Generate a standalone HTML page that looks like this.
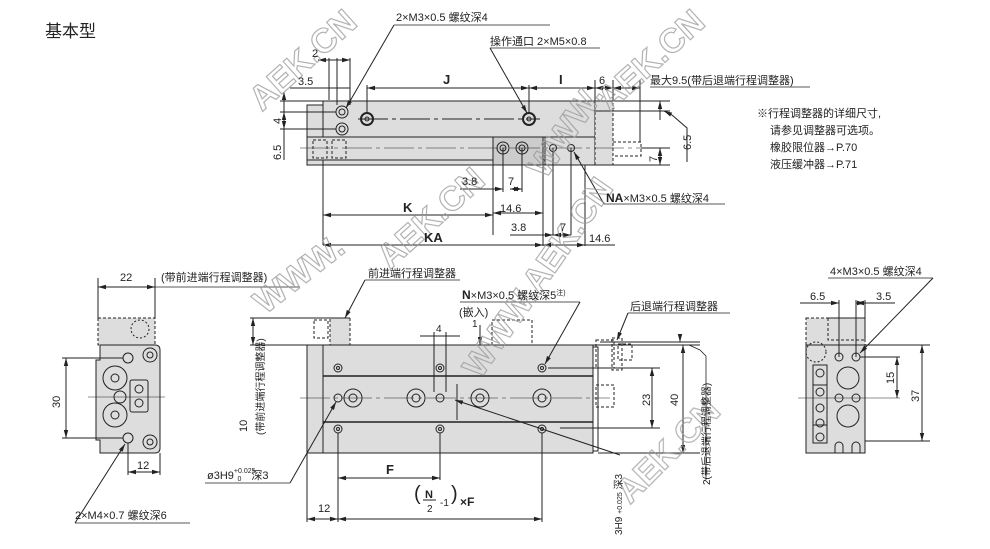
<!DOCTYPE html>
<html><head><meta charset="utf-8"><style>
html,body{margin:0;padding:0;background:#fff;width:990px;height:549px;overflow:hidden}
svg{display:block}
text{font-family:"Liberation Sans","Noto Sans CJK SC",sans-serif;fill:#222;font-size:11px}
.b{font-weight:bold;font-size:13px}
.wm{font-family:"Liberation Sans",sans-serif;font-weight:bold;font-size:34px;fill:none;stroke:#999;stroke-width:1.2}
</style></head><body>
<svg width="990" height="549" viewBox="0 0 990 549" xmlns="http://www.w3.org/2000/svg">
<defs>
<marker id="a" markerWidth="8" markerHeight="6" refX="8" refY="3" orient="auto-start-reverse"><path d="M0,0.8 L8,3 L0,5.2z" fill="#222"/></marker>
</defs>
<g stroke="#222" stroke-width="1" fill="none">
<!-- ===== TOP VIEW ===== -->
<rect x="307" y="105" width="16" height="60" fill="#ddd"/>
<rect x="323" y="101" width="272" height="36" fill="#ddd"/>
<rect x="307" y="137" width="288" height="23" fill="#ddd"/>
<rect x="323" y="160" width="272" height="5" fill="#ddd"/>
<rect x="493" y="137" width="50" height="28" fill="#ccc"/>
<rect x="545" y="137" width="50" height="28" fill="#ddd"/>
<rect x="595" y="101" width="18" height="64" fill="#ddd" stroke-dasharray="3,2"/>
<rect x="613" y="142" width="28" height="14" stroke-dasharray="3,2"/>
<rect x="313" y="140" width="14" height="18" stroke-dasharray="3,2"/>
<rect x="332" y="140" width="14" height="18" stroke-dasharray="3,2"/>
<circle cx="342" cy="112" r="6"/><circle cx="342" cy="112" r="3"/>
<circle cx="342" cy="129" r="6"/><circle cx="342" cy="129" r="3"/>
<circle cx="367" cy="119" r="6" stroke-width="2"/><circle cx="367" cy="119" r="2"/>
<circle cx="529" cy="119" r="6" stroke-width="2"/><circle cx="529" cy="119" r="2"/>
<circle cx="503" cy="148" r="6"/><circle cx="503" cy="148" r="3"/>
<circle cx="522" cy="148" r="6"/><circle cx="522" cy="148" r="3"/>
<circle cx="553" cy="148" r="3.5"/><circle cx="571" cy="148" r="3.5"/>
<line x1="358" y1="119" x2="540" y2="119" stroke-dasharray="30,4,4,4"/>
<line x1="300" y1="148" x2="660" y2="148" stroke-dasharray="30,4,4,4" stroke-width="0.6"/>
<!-- dims top -->
<line x1="323" y1="165" x2="323" y2="245"/>
<line x1="337" y1="58" x2="337" y2="105"/><line x1="350" y1="58" x2="350" y2="105"/>
<line x1="329" y1="58" x2="329" y2="100"/>
<line x1="318" y1="60" x2="350" y2="60" marker-start="url(#a)" marker-end="url(#a)"/>
<line x1="290" y1="88" x2="350" y2="88"/>
<line x1="367" y1="88" x2="529" y2="88" marker-start="url(#a)" marker-end="url(#a)"/>
<line x1="529" y1="88" x2="595" y2="88" marker-start="url(#a)" marker-end="url(#a)"/>
<line x1="595" y1="88" x2="613" y2="88" marker-start="url(#a)" marker-end="url(#a)"/>
<line x1="613" y1="88" x2="640" y2="88" marker-start="url(#a)" marker-end="url(#a)"/>
<line x1="367" y1="85" x2="367" y2="113"/><line x1="529" y1="85" x2="529" y2="113"/>
<line x1="595" y1="80" x2="595" y2="101"/><line x1="613" y1="80" x2="613" y2="101"/><line x1="640" y1="80" x2="640" y2="142"/>
<line x1="280" y1="101" x2="323" y2="101"/><line x1="280" y1="112" x2="336" y2="112"/><line x1="280" y1="129" x2="336" y2="129"/>
<line x1="284" y1="92" x2="284" y2="160" marker-start="url(#a)"/>
<line x1="284" y1="112" x2="284" y2="129" marker-start="url(#a)" marker-end="url(#a)"/>
<line x1="595" y1="101" x2="670" y2="101"/><line x1="595" y1="111" x2="670" y2="111"/>
<line x1="660" y1="101" x2="660" y2="120" marker-start="url(#a)"/>
<line x1="641" y1="148" x2="670" y2="148"/><line x1="595" y1="165" x2="670" y2="165"/>
<line x1="660" y1="148" x2="660" y2="165" marker-start="url(#a)" marker-end="url(#a)"/>
<polyline points="687,162 687,128 672,115" /><line x1="672" y1="115" x2="664" y2="111" marker-end="url(#a)"/>
<line x1="493" y1="165" x2="493" y2="235"/><line x1="503" y1="148" x2="503" y2="192"/><line x1="522" y1="148" x2="522" y2="192"/>
<line x1="543" y1="165" x2="543" y2="246"/><line x1="553" y1="148" x2="553" y2="235"/><line x1="571" y1="148" x2="571" y2="235"/><line x1="585" y1="165" x2="585" y2="246"/>
<line x1="460" y1="189" x2="503" y2="189" marker-end="url(#a)"/><line x1="510" y1="189" x2="522" y2="189" marker-start="url(#a)" marker-end="url(#a)"/>
<line x1="493" y1="213" x2="543" y2="213" marker-start="url(#a)" marker-end="url(#a)"/>
<line x1="323" y1="215" x2="493" y2="215" marker-start="url(#a)" marker-end="url(#a)"/>
<line x1="510" y1="235" x2="553" y2="235" marker-end="url(#a)"/><line x1="553" y1="235" x2="571" y2="235" marker-start="url(#a)" marker-end="url(#a)"/>
<line x1="323" y1="245" x2="543" y2="245" marker-start="url(#a)" marker-end="url(#a)"/>
<line x1="543" y1="245" x2="585" y2="245" marker-start="url(#a)" marker-end="url(#a)"/><line x1="585" y1="245" x2="615" y2="245"/>
<!-- leaders top -->
<line x1="394" y1="25" x2="550" y2="25" stroke-width="0.8"/><line x1="394" y1="25" x2="346" y2="108" marker-end="url(#a)"/>
<line x1="490" y1="48" x2="600" y2="48" stroke-width="0.8"/><line x1="490" y1="48" x2="527" y2="113" marker-end="url(#a)"/>
<line x1="604" y1="204" x2="725" y2="204" stroke-width="0.8"/><line x1="604" y1="204" x2="574" y2="152" marker-end="url(#a)"/>
<line x1="650" y1="87" x2="810" y2="87" stroke-width="0.8"/>

<!-- ===== LEFT END VIEW ===== -->
<rect x="98" y="318" width="57" height="27" fill="#ddd" stroke-dasharray="3,2"/>
<circle cx="140" cy="329" r="9" stroke-dasharray="2,2"/>
<path d="M100,345 H155 Q160,345 160,350 V448 Q160,453 155,453 H100 V440 H96 V360 H100z" fill="#ddd"/>
<circle cx="128" cy="358" r="5"/><circle cx="150" cy="355" r="7"/><circle cx="150" cy="355" r="3"/>
<circle cx="115" cy="378" r="12"/><circle cx="115" cy="378" r="4"/>
<circle cx="115" cy="415" r="12"/><circle cx="115" cy="415" r="4"/>
<circle cx="120" cy="397" r="6"/>
<rect x="130" y="380" width="18" height="32" rx="2"/><circle cx="139" cy="389" r="4"/><circle cx="139" cy="403" r="4"/>
<circle cx="128" cy="438" r="5"/><circle cx="150" cy="442" r="7"/><circle cx="150" cy="442" r="3"/>
<line x1="88" y1="397" x2="165" y2="397" stroke-width="0.6"/>
<line x1="98" y1="278" x2="98" y2="318"/><line x1="155" y1="278" x2="155" y2="318"/>
<line x1="98" y1="287" x2="155" y2="287" marker-start="url(#a)" marker-end="url(#a)"/><line x1="155" y1="287" x2="300" y2="287" stroke-width="0.8"/>
<line x1="62" y1="358" x2="123" y2="358"/><line x1="62" y1="438" x2="123" y2="438"/>
<line x1="66" y1="358" x2="66" y2="438" marker-start="url(#a)" marker-end="url(#a)"/>
<line x1="128" y1="443" x2="128" y2="475"/><line x1="160" y1="453" x2="160" y2="475"/>
<line x1="128" y1="472" x2="160" y2="472" marker-start="url(#a)" marker-end="url(#a)"/>
<line x1="75" y1="523" x2="190" y2="523" stroke-width="0.8"/><line x1="75" y1="523" x2="125" y2="444" marker-end="url(#a)"/>

<!-- ===== BOTTOM VIEW ===== -->
<rect x="307" y="345" width="286" height="108" fill="#ddd"/>
<line x1="323" y1="345" x2="323" y2="453"/>
<line x1="323" y1="376" x2="593" y2="376" stroke-width="1.5"/><line x1="323" y1="422" x2="593" y2="422" stroke-width="1.5"/>
<rect x="593" y="347" width="5" height="104"/>
<rect x="314" y="320" width="14" height="18" stroke-dasharray="3,2"/><rect x="330" y="318" width="20" height="27" fill="#ddd" stroke-dasharray="3,2"/>
<rect x="492" y="320" width="40" height="25" stroke-dasharray="3,2"/>
<rect x="596" y="340" width="18" height="28" stroke-dasharray="3,2"/><rect x="612" y="338" width="10" height="32" stroke-dasharray="3,2"/><rect x="618" y="344" width="14" height="16" stroke-dasharray="3,2"/>
<rect x="596" y="385" width="18" height="22" stroke-dasharray="3,2"/>
<g>
<circle cx="338" cy="368" r="4"/><circle cx="338" cy="368" r="1.5"/>
<circle cx="440" cy="368" r="4"/><circle cx="440" cy="368" r="1.5"/>
<circle cx="542" cy="368" r="4"/><circle cx="542" cy="368" r="1.5"/>
<circle cx="338" cy="429" r="4"/><circle cx="338" cy="429" r="1.5"/>
<circle cx="440" cy="429" r="4"/><circle cx="440" cy="429" r="1.5"/>
<circle cx="542" cy="429" r="4"/><circle cx="542" cy="429" r="1.5"/>
<circle cx="338" cy="398" r="4"/><circle cx="440" cy="398" r="4"/>
<circle cx="353" cy="398" r="9"/><circle cx="353" cy="398" r="4"/>
<circle cx="416" cy="398" r="9"/><circle cx="416" cy="398" r="4"/>
<circle cx="480" cy="398" r="9"/><circle cx="480" cy="398" r="4"/>
<circle cx="542" cy="398" r="9"/><circle cx="542" cy="398" r="4"/>
</g>
<line x1="300" y1="398" x2="610" y2="398" stroke-width="0.6" stroke-dasharray="30,4,4,4"/>
<line x1="250" y1="318" x2="350" y2="318"/><line x1="250" y1="345" x2="700" y2="345"/>
<line x1="253" y1="318" x2="253" y2="345" marker-start="url(#a)" marker-end="url(#a)"/>
<line x1="560" y1="428" x2="660" y2="428"/><line x1="548" y1="368" x2="660" y2="368"/>
<line x1="652" y1="368" x2="652" y2="428" marker-start="url(#a)" marker-end="url(#a)"/>
<line x1="600" y1="342" x2="700" y2="342"/><line x1="598" y1="453" x2="700" y2="453"/>
<line x1="683" y1="345" x2="683" y2="453" marker-start="url(#a)" marker-end="url(#a)"/>
<line x1="680" y1="335" x2="680" y2="342" marker-end="url(#a)"/>
<line x1="307" y1="453" x2="307" y2="522"/><line x1="338" y1="433" x2="338" y2="522"/><line x1="440" y1="433" x2="440" y2="480"/><line x1="542" y1="433" x2="542" y2="522"/>
<line x1="338" y1="478" x2="440" y2="478" marker-start="url(#a)" marker-end="url(#a)"/>
<line x1="307" y1="519" x2="338" y2="519" marker-start="url(#a)" marker-end="url(#a)"/>
<line x1="338" y1="519" x2="542" y2="519" marker-start="url(#a)" marker-end="url(#a)"/>
<line x1="420" y1="336" x2="460" y2="336"/><line x1="434" y1="332" x2="434" y2="392"/><line x1="446" y1="332" x2="446" y2="392"/>
<line x1="480" y1="325" x2="480" y2="345" marker-end="url(#a)"/>
<line x1="457" y1="384" x2="457" y2="420"/>
<line x1="460" y1="302" x2="580" y2="302" stroke-width="0.8"/><line x1="580" y1="302" x2="545" y2="364" marker-end="url(#a)"/>
<line x1="365" y1="280" x2="460" y2="280" stroke-width="0.8"/><line x1="365" y1="280" x2="345" y2="318" marker-end="url(#a)"/>
<line x1="628" y1="313" x2="730" y2="313" stroke-width="0.8"/><line x1="628" y1="313" x2="617" y2="340" marker-end="url(#a)"/>
<line x1="205" y1="483" x2="290" y2="483" stroke-width="0.8"/><line x1="290" y1="483" x2="336" y2="402" marker-end="url(#a)"/>
<line x1="620" y1="455" x2="455" y2="400" marker-end="url(#a)"/>
<path d="M689,345 L700,350 L706,356 L706,480" stroke-width="0.8"/>

<!-- ===== RIGHT END VIEW ===== -->
<rect x="806" y="318" width="59" height="27" fill="#ddd" stroke-dasharray="3,2"/>
<rect x="828" y="318" width="37" height="22" stroke-dasharray="3,2"/>
<path d="M806,345 H865 V453 H806z" fill="#ddd"/>
<circle cx="816" cy="352" r="10" stroke-dasharray="2,2"/>
<rect x="813" y="365" width="14" height="20"/><rect x="813" y="385" width="14" height="40"/><rect x="813" y="425" width="14" height="18"/>
<circle cx="820" cy="373" r="4"/><circle cx="820" cy="392" r="4"/><circle cx="820" cy="408" r="4"/><circle cx="820" cy="423" r="4"/><circle cx="820" cy="437" r="4"/>
<circle cx="839" cy="357" r="4"/><circle cx="856" cy="357" r="4"/>
<circle cx="848" cy="378" r="11"/><circle cx="848" cy="416" r="11"/>
<circle cx="839" cy="398" r="4"/><circle cx="856" cy="398" r="4"/>
<path d="M835,453 V446 A4,4 0 0 1 843,446 V453 M852,453 V446 A4,4 0 0 1 860,446 V453"/>
<line x1="798" y1="398" x2="900" y2="398" stroke-width="0.6"/>
<line x1="839" y1="300" x2="839" y2="357"/><line x1="856" y1="300" x2="856" y2="357"/><line x1="865" y1="300" x2="865" y2="318"/>
<line x1="800" y1="303" x2="839" y2="303" marker-end="url(#a)"/><line x1="856" y1="303" x2="865" y2="303" marker-start="url(#a)" marker-end="url(#a)"/><line x1="865" y1="303" x2="895" y2="303"/>
<line x1="860" y1="357" x2="900" y2="357"/><line x1="865" y1="345" x2="930" y2="345"/><line x1="865" y1="441" x2="930" y2="441"/>
<line x1="897" y1="357" x2="897" y2="398" marker-start="url(#a)" marker-end="url(#a)"/>
<line x1="922" y1="345" x2="922" y2="441" marker-start="url(#a)" marker-end="url(#a)"/>
<line x1="828" y1="278" x2="933" y2="278" stroke-width="0.8"/><line x1="933" y1="278" x2="860" y2="353" marker-end="url(#a)"/>
</g>

<!-- watermarks -->
<g opacity="0.75">
<text class="wm" x="262" y="112" transform="rotate(-42 262 112)">AEK.CN</text>
<text class="wm" x="610" y="112" transform="rotate(-42 610 112)">AEK.CN</text>
<text class="wm" x="545" y="180" transform="rotate(-55 545 180)">WWW.</text>
<text class="wm" x="390" y="270" transform="rotate(-42 390 270)">AEK.CN</text>
<text class="wm" x="265" y="315" transform="rotate(-38 265 315)">WWW.</text>
<text class="wm" x="480" y="380" transform="rotate(-55 480 380)">WWW.AEK.CN</text>
<text class="wm" x="630" y="505" transform="rotate(-45 630 505)">AEK.CN</text>
</g>

<!-- labels -->
<text x="45" y="37" style="font-size:17px">基本型</text>
<text x="396" y="21">2×M3×0.5 螺纹深4</text>
<text x="490" y="45">操作通口 2×M5×0.8</text>
<text x="312" y="57">2</text>
<text x="298" y="85">3.5</text>
<text x="443" y="84" class="b">J</text>
<text x="559" y="84" class="b">I</text>
<text x="599" y="84">6</text>
<text x="650" y="84">最大9.5(带后退端行程调整器)</text>
<text x="757" y="117">※行程调整器的详细尺寸,</text>
<text x="770" y="134">请参见调整器可选项。</text>
<text x="770" y="151">橡胶限位器→P.70</text>
<text x="770" y="168">液压缓冲器→P.71</text>
<text transform="translate(281,124) rotate(-90)">4</text>
<text transform="translate(281,160) rotate(-90)">6.5</text>
<text transform="translate(691,150) rotate(-90)">6.5</text>
<text transform="translate(657,162) rotate(-90)">7</text>
<text x="462" y="185">3.8</text>
<text x="508" y="185">7</text>
<text x="606" y="202"><tspan class="b" style="font-size:12px">NA</tspan>×M3×0.5 螺纹深4</text>
<text x="403" y="212" class="b">K</text>
<text x="500" y="212">14.6</text>
<text x="511" y="231">3.8</text>
<text x="560" y="231">7</text>
<text x="589" y="242">14.6</text>
<text x="424" y="242" class="b">KA</text>
<text x="120" y="281">22</text>
<text x="161" y="281">(带前进端行程调整器)</text>
<text x="368" y="277">前进端行程调整器</text>
<text x="462" y="299"><tspan class="b" style="font-size:12px">N</tspan>×M3×0.5 螺纹深5<tspan style="font-size:7px" dy="-4">注)</tspan></text>
<text x="459" y="316">(嵌入)</text>
<text x="630" y="310">后退端行程调整器</text>
<text x="436" y="332" style="font-size:10px">4</text>
<text x="472" y="327" style="font-size:10px">1</text>
<text transform="translate(60,408) rotate(-90)">30</text>
<text x="137" y="469">12</text>
<text x="75" y="519">2×M4×0.7 螺纹深6</text>
<text transform="translate(247,432) rotate(-90)">10</text>
<text transform="translate(264,435) rotate(-90)" style="font-size:10px">(带前进端行程调整器)</text>
<text x="207" y="479">ø3H9<tspan style="font-size:7px" dy="-6">+0.025</tspan><tspan style="font-size:7px" dx="-18" dy="8">0</tspan><tspan dx="10" dy="-2">深3</tspan></text>
<text x="386" y="474" class="b">F</text>
<text x="318" y="512">12</text>
<text x="414" y="500" style="font-size:20px">(</text>
<text x="425" y="498" class="b" style="font-size:11px">N</text><line x1="423" y1="500" x2="436" y2="500" stroke="#222"/>
<text x="427" y="512" style="font-size:10px">2</text>
<text x="440" y="506" style="font-size:10px">-1</text>
<text x="451" y="500" style="font-size:20px">)</text>
<text x="460" y="506" class="b" style="font-size:12px">×F</text>
<text transform="translate(650,406) rotate(-90)">23</text>
<text transform="translate(678,406) rotate(-90)">40</text>
<text transform="translate(710,485) rotate(-90)" style="font-size:10px">2(带后退端行程调整器)</text>
<text transform="translate(622,535) rotate(-90)" style="font-size:10px">3H9 <tspan style="font-size:7px">+0.025</tspan> 深3</text>
<text x="830" y="275">4×M3×0.5 螺纹深4</text>
<text x="810" y="300">6.5</text>
<text x="876" y="300">3.5</text>
<text transform="translate(894,384) rotate(-90)">15</text>
<text transform="translate(919,402) rotate(-90)">37</text>
</svg>
</body></html>
